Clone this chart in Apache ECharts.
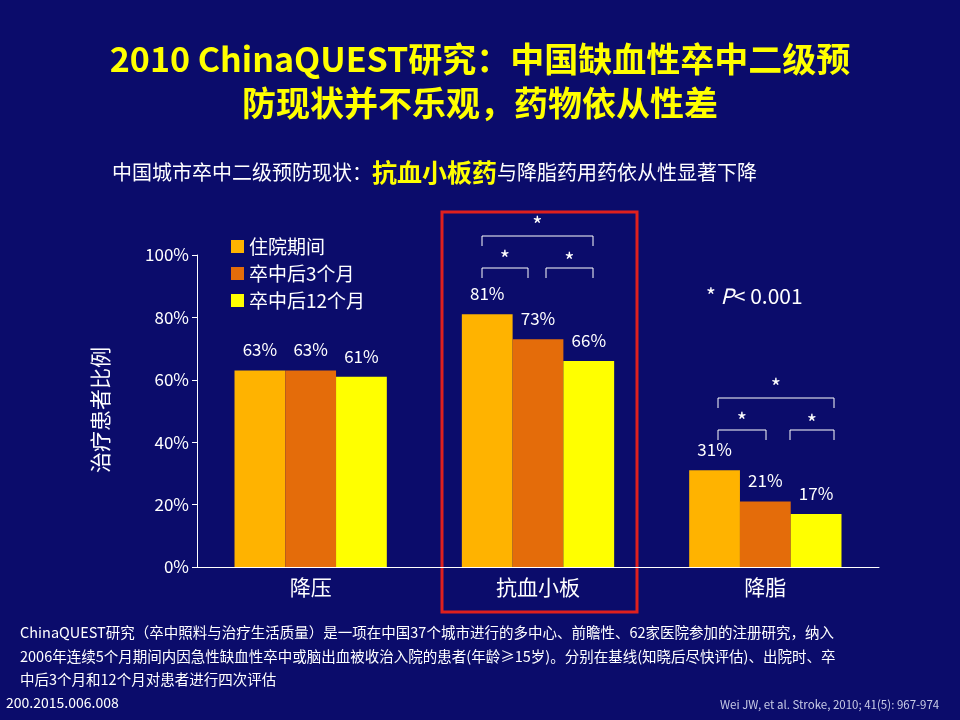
<!DOCTYPE html>
<html style="height:100%">
<head>
<meta charset="utf-8">
<script src="https://cdn.jsdelivr.net/npm/echarts@6/dist/echarts.min.js"></script>
<style>
body{margin:0;width:960px;height:720px;background:#0b0c6b;}
#c{width:960px;height:720px;}
</style>
</head>
<body>
<div id="c"></div>
<script>
var categories = ['降压', '抗血小板', '降脂'];
var seriesNames = ['住院期间', '卒中后3个月', '卒中后12个月'];
var inHospital = [63, 81, 31];
var month3 = [63, 73, 21];
var month12 = [61, 66, 17];
var yTicks = [0, 20, 40, 60, 80, 100];
var colors = ['#FFB300', '#E46C0A', '#FFFF00'];

var font = '"Noto Sans CJK SC", "Noto Sans", sans-serif';
var chart = echarts.init(document.getElementById('c'));

// bracket helper for significance marks
function bracket(x1, x2, y, ty) {
    return [
        {type:'polyline', shape:{points:[[x1,y+10],[x1,y],[x2,y],[x2,y+10]]}, style:{stroke:'#fff', lineWidth:1, fill:null}},
        {type:'text', x:(x1+x2)/2, y:ty, style:{text:'*', fill:'#fff', font:'22px '+font, textAlign:'center'}}
    ];
}

var graphics = [
    {type:'text', left:'center', top:42, style:{text:'2010 ChinaQUEST研究：中国缺血性卒中二级预', fill:'#FFFF00', font:'bold 34px '+font}},
    {type:'text', left:'center', top:86, style:{text:'防现状并不乐观，药物依从性差', fill:'#FFFF00', font:'bold 34px '+font}},
    {type:'text', x:112, y:160, style:{rich:{a:{fill:'#fff', fontSize:20, fontFamily:font}, b:{fill:'#FFFF00', fontSize:25, fontWeight:'bold', fontFamily:font}}, text:'{a|中国城市卒中二级预防现状：}{b|抗血小板药}{a|与降脂药用药依从性显著下降}'}},
    {type:'text', x:100, y:410, rotation:Math.PI/2, style:{text:'治疗患者比例', fill:'#fff', font:'21px '+font, textAlign:'center', textVerticalAlign:'middle'}},
    {type:'rect', shape:{x:442, y:212, width:195, height:400}, style:{stroke:'#E0201E', lineWidth:3, fill:null}},
    {type:'text', x:706, y:286, style:{rich:{a:{fill:'#fff', fontSize:21, fontFamily:font}, b:{fill:'#fff', fontSize:21, fontStyle:'italic', fontFamily:font}}, text:'{a|* }{b|P}{a|< 0.001}'}},
    {type:'text', x:20, y:621, style:{text:'ChinaQUEST研究（卒中照料与治疗生活质量）是一项在中国37个城市进行的多中心、前瞻性、62家医院参加的注册研究，纳入\n2006年连续5个月期间内因急性缺血性卒中或脑出血被收治入院的患者(年龄≥15岁)。分别在基线(知晓后尽快评估)、出院时、卒\n中后3个月和12个月对患者进行四次评估', fill:'#fff', font:'14.5px '+font, lineHeight:23.5}},
    {type:'text', x:6, y:696, style:{text:'200.2015.006.008', fill:'#fff', font:'14px '+font}},
    {type:'text', x:720, y:699, style:{text:'Wei JW, et al. Stroke, 2010; 41(5): 967-974', fill:'#c8cbe6', font:'11.5px '+font}}
];
graphics = graphics
    .concat(bracket(482, 593, 236, 214))
    .concat(bracket(482, 528, 268, 248))
    .concat(bracket(546, 593, 268, 250))
    .concat(bracket(718, 834, 398, 376))
    .concat(bracket(718, 766, 430, 410))
    .concat(bracket(790, 834, 430, 412));

var series = [inHospital, month3, month12].map(function (d, i) {
    return {
        name: seriesNames[i], type: 'bar', data: d,
        itemStyle: {color: colors[i]},
        barGap: '0%', barCategoryGap: '33%',
        label: {show: true, position: 'top', distance: 12, color: '#fff', fontSize: 17, fontFamily: font,
            formatter: function (p) { return p.value + '%'; }}
    };
});

chart.setOption({
    backgroundColor: '#0b0c6b',
    animation: false,
    legend: {
        orient: 'vertical', left: 226, top: 232, itemGap: 8,
        itemWidth: 13, itemHeight: 13, icon: 'rect',
        textStyle: {color: '#fff', fontSize: 19, fontFamily: font},
        data: seriesNames
    },
    grid: {left: 197, top: 255, width: 682, height: 312, containLabel: false},
    xAxis: {
        type: 'category', data: categories,
        axisLine: {lineStyle: {color: '#fff'}}, axisTick: {show: false},
        axisLabel: {color: '#fff', fontSize: 21, fontFamily: font, margin: 10}
    },
    yAxis: {
        type: 'value', min: yTicks[0], max: yTicks[yTicks.length-1], interval: 20,
        axisLine: {show: true, lineStyle: {color: '#fff'}},
        axisTick: {show: true, inside: false, length: 5, lineStyle: {color: '#fff'}},
        splitLine: {show: false},
        axisLabel: {color: '#fff', fontSize: 17, fontFamily: font, formatter: '{value}%'}
    },
    series: series,
    graphic: graphics
});
</script>
</body>
</html>
